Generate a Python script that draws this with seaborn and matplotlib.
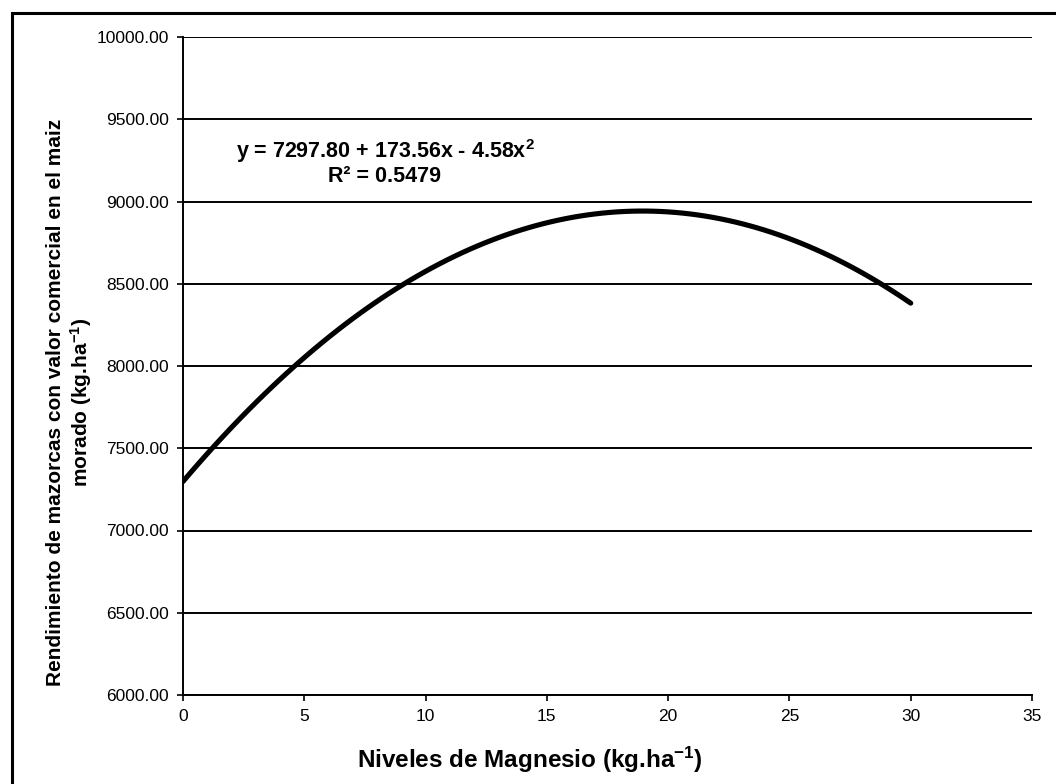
import matplotlib
matplotlib.use("Agg")
import matplotlib.pyplot as plt
import seaborn as sns
import pandas as pd
from matplotlib.patches import Rectangle

# Data (points on the fitted curve)
magnesio = [0, 5, 10, 15, 20, 25, 30]
rendimiento = [7298, 8051, 8575, 8871, 8937, 8774, 8382]
y_ticks = [6000, 6500, 7000, 7500, 8000, 8500, 9000, 9500, 10000]
x_ticks = [0, 5, 10, 15, 20, 25, 30, 35]
equation = "y = 7297.80 + 173.56x - 4.58x$^{2}$"
r2_text = "R² = 0.5479"
x_label = "Niveles de Magnesio (kg.ha$^{-1}$)"
y_label = "Rendimiento de mazorcas con valor comercial en el maiz\nmorado (kg.ha$^{-1}$)"

sns.set_theme(style="white")
plt.rcParams['font.family'] = ['Liberation Sans', 'DejaVu Sans']
plt.rcParams['text.color'] = 'black'
plt.rcParams['axes.labelcolor'] = 'black'
plt.rcParams['mathtext.fontset'] = 'custom'
plt.rcParams['mathtext.rm'] = 'Liberation Sans:bold'
plt.rcParams['mathtext.bf'] = 'Liberation Sans:bold'
plt.rcParams['mathtext.it'] = 'Liberation Sans:bold'

df = pd.DataFrame({"x": magnesio, "y": rendimiento})

fig = plt.figure(figsize=(10.56, 7.84), dpi=100)
fig.patch.set_facecolor("white")
ax = fig.add_axes([183/1056, 1-695/784, (1032-183)/1056, (695-37)/784])

sns.regplot(data=df, x="x", y="y", order=2, ci=None, scatter=False,
            line_kws=dict(color="black", lw=3.7, solid_capstyle="round"), ax=ax)

ax.set_xlim(0, 35)
ax.set_ylim(6000, 10000)
ax.set_xticks(x_ticks)
ax.set_yticks(y_ticks)
ax.set_xticklabels([str(v) for v in x_ticks], fontsize=12.5)
ax.set_yticklabels([f"{v:.2f}" for v in y_ticks], fontsize=12.5)
ax.yaxis.grid(True, color="black", lw=1.4)
ax.xaxis.grid(False)
for s in ["top", "right"]:
    ax.spines[s].set_visible(False)
for s in ["left", "bottom"]:
    ax.spines[s].set_color("black")
    ax.spines[s].set_linewidth(1.4)
ax.tick_params(axis="both", which="major", direction="out", length=4, width=1.2,
               color="black", labelcolor="black", bottom=True, left=True)
ax.tick_params(axis="x", pad=6)
ax.tick_params(axis="y", pad=6)

ax.set_xlabel(x_label, fontsize=17.5, fontweight="bold")
ax.xaxis.label.set_va("center")
ax.xaxis.set_label_coords((530-183)/849, -(760-695)/658)

ax.set_ylabel(y_label, fontsize=15, fontweight="bold", linespacing=1.2)
ax.yaxis.label.set_va("center")
ax.yaxis.set_label_coords((70-183)/849, (695-402)/658)

fig.text(385/1056, 1-151/784, equation, ha="center", va="center", fontsize=15.5,
         fontweight="bold")
fig.text(385/1056, 1-177/784, r2_text, ha="center", va="center", fontsize=15.5,
         fontweight="bold")

# outer frame
fig.patches.append(Rectangle((12/1056, -0.05), 1.2, 1-13/784+0.05, transform=fig.transFigure,
                             fill=False, edgecolor="black", lw=2.2))

fig.savefig("out.png", dpi=100, facecolor="white")
